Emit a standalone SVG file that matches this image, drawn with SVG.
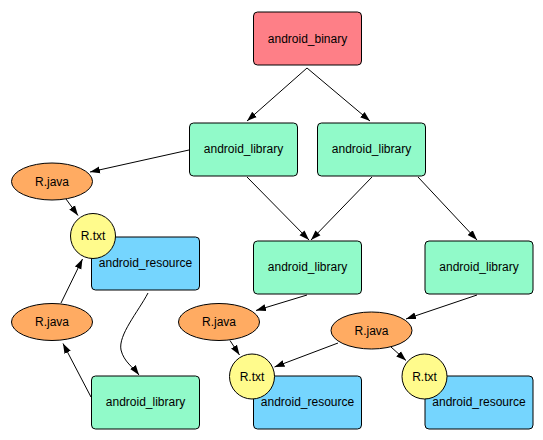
<svg xmlns="http://www.w3.org/2000/svg" width="543" height="440" viewBox="0 0 543 440">
<defs>
<marker id="ah" viewBox="0 0 10 10" refX="10" refY="5" markerWidth="10" markerHeight="10" markerUnits="userSpaceOnUse" orient="auto">
<path d="M0,1.5 L10,5 L0,8.5 Z" fill="#000"/>
</marker>
<style>
.box{stroke:#000;stroke-width:1}
.bin{fill:#fe7f87}
.lib{fill:#91fac9}
.res{fill:#75d5fe}
.rj{fill:#ffab62;stroke:#000;stroke-width:1}
.rt{fill:#fffb8c;stroke:#000;stroke-width:1}
text{font-family:"Liberation Sans",Arial,sans-serif;font-size:12px;text-anchor:middle;fill:#000}
.e{fill:none;stroke:#000;stroke-width:1;marker-end:url(#ah)}
</style>
</defs>
<rect width="543" height="440" fill="#fff"/>
<g id="connectors">
<path class="e" d="M307,68 L247,121"/>
<path class="e" d="M307,68 L370,121"/>
<path class="e" d="M189,150 L90,172"/>
<path class="e" d="M66,199 L78,215.5"/>
<path class="e" d="M247,177 L309,240"/>
<path class="e" d="M372,177 L311,240"/>
<path class="e" d="M418,177 L477,240"/>
<path class="e" d="M307,295 L256,310.5"/>
<path class="e" d="M477,295 L406,319"/>
<path class="e" d="M230,340.5 L239.5,355"/>
<path class="e" d="M338,343 L274.5,367"/>
<path class="e" d="M391,347 L406,360.5"/>
<path class="e" d="M148,293 C138,312 118,335 121,350 C124,362 133,367 139,375"/>
<path class="e" d="M91,397 L63,343.5"/>
<path class="e" d="M61,303 L82.5,259"/>
</g>
<g id="android_binary"><rect class="box bin" x="253.5" y="12" width="108" height="53" rx="4"/><text x="307.5" y="42.5">android_binary</text></g>
<g id="android_library_1"><rect class="box lib" x="189.5" y="123" width="108" height="53" rx="4"/><text x="243.5" y="153">android_library</text></g>
<g id="android_library_2"><rect class="box lib" x="317.5" y="123" width="108" height="53" rx="4"/><text x="371.5" y="153">android_library</text></g>
<g id="android_library_3"><rect class="box lib" x="253.5" y="241" width="108" height="53" rx="4"/><text x="307.5" y="271">android_library</text></g>
<g id="android_library_4"><rect class="box lib" x="425" y="241" width="108" height="53" rx="4"/><text x="479" y="271">android_library</text></g>
<g id="android_library_5"><rect class="box lib" x="91.5" y="376" width="108" height="53" rx="4"/><text x="145.5" y="406">android_library</text></g>
<g id="android_resource_1"><rect class="box res" x="91.5" y="237" width="108" height="53" rx="4"/><text x="145.5" y="267">android_resource</text></g>
<g id="android_resource_2"><rect class="box res" x="253.5" y="376" width="108" height="53" rx="4"/><text x="307.5" y="406">android_resource</text></g>
<g id="android_resource_3"><rect class="box res" x="425" y="376" width="108" height="53" rx="4"/><text x="479" y="406">android_resource</text></g>
<g id="R_java_1"><ellipse class="rj" cx="52" cy="181.5" rx="40.5" ry="18.5"/><text x="52" y="185.5">R.java</text></g>
<g id="R_java_2"><ellipse class="rj" cx="52" cy="322" rx="40.5" ry="18.5"/><text x="52" y="326">R.java</text></g>
<g id="R_java_3"><ellipse class="rj" cx="219" cy="322" rx="40.5" ry="18.5"/><text x="219" y="326">R.java</text></g>
<g id="R_java_4"><ellipse class="rj" cx="371.5" cy="330.5" rx="40.5" ry="18.5"/><text x="371.5" y="334.5">R.java</text></g>
<g id="R_txt_1"><circle class="rt" cx="93" cy="236" r="22.5"/><text x="93" y="240">R.txt</text></g>
<g id="R_txt_2"><circle class="rt" cx="252" cy="376.5" r="22.5"/><text x="252" y="380.5">R.txt</text></g>
<g id="R_txt_3"><circle class="rt" cx="424.5" cy="376.5" r="22.5"/><text x="424.5" y="380.5">R.txt</text></g>
</svg>
